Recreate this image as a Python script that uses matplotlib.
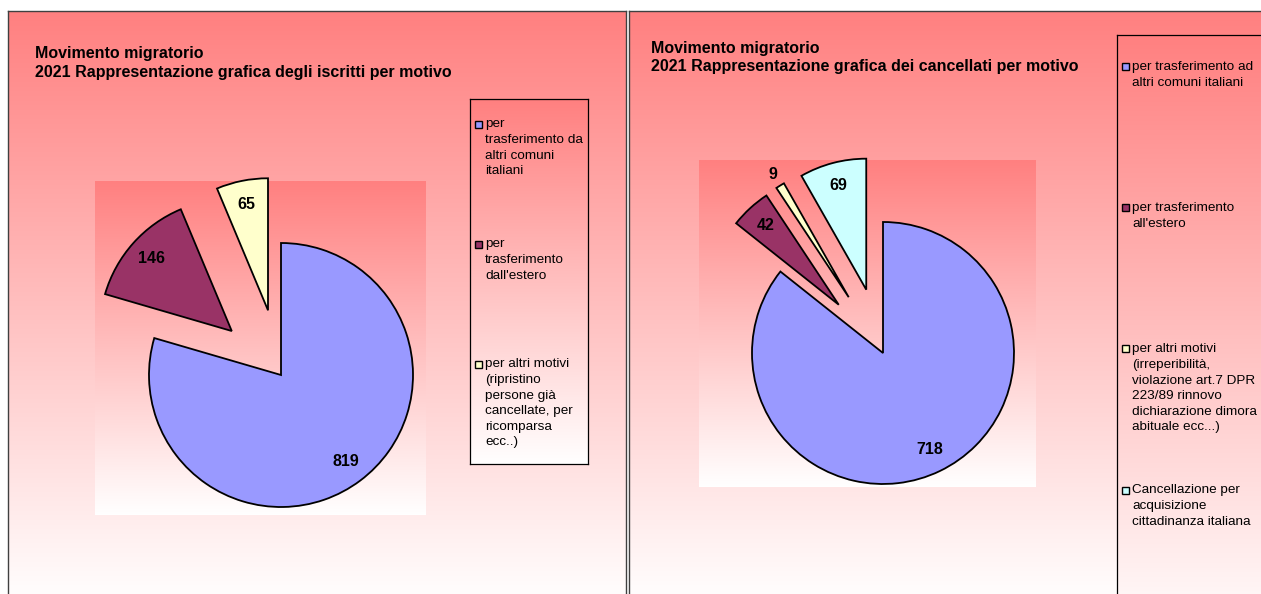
import numpy as np
import matplotlib.pyplot as plt
from matplotlib.colors import LinearSegmentedColormap
from matplotlib.patches import Rectangle

plt.rcParams['font.family'] = ['Liberation Sans', 'DejaVu Sans']

W, H = 1261, 594

# iscritti (left chart)
iscritti_title = ["Movimento migratorio",
                  "2021 Rappresentazione grafica degli iscritti per motivo"]
iscritti_labels = ["per\ntrasferimento da\naltri comuni\nitaliani",
                   "per\ntrasferimento\ndall'estero",
                   "per altri motivi\n(ripristino\npersone già\ncancellate, per\nricomparsa\necc..)"]
iscritti_values = [819, 146, 65]
iscritti_colors = ['#9999FF', '#993366', '#FFFFCC']
iscritti_explode = [0, 0.5, 0.5]

# cancellati (right chart)
cancellati_title = ["Movimento migratorio",
                    "2021 Rappresentazione grafica dei cancellati per motivo"]
cancellati_labels = ["per trasferimento ad\naltri comuni italiani",
                     "per trasferimento\nall'estero",
                     "per altri motivi\n(irreperibilità,\nviolazione art.7 DPR\n223/89 rinnovo\ndichiarazione dimora\nabituale ecc...)",
                     "Cancellazione per\nacquisizione\ncittadinanza italiana"]
cancellati_values = [718, 42, 9, 69]
cancellati_colors = ['#9999FF', '#993366', '#FFFFCC', '#CCFFFF']
cancellati_explode = [0, 0.5, 0.5, 0.5]

grad = LinearSegmentedColormap.from_list('excel_grad', ['#FF8080', '#FFFFFF'])
fig = plt.figure(figsize=(W / 100, H / 100), dpi=100)
fig.patch.set_facecolor('white')


def px_axes(x0, y0, x1, y1, z=0):
    # axes placed in pixel coordinates, data units = pixels (y down)
    ax = fig.add_axes([x0 / W, 1 - y1 / H, (x1 - x0) / W, (y1 - y0) / H], zorder=z)
    ax.set_xlim(x0, x1)
    ax.set_ylim(y1, y0)
    ax.set_xticks([])
    ax.set_yticks([])
    return ax


def gradient_box(x0, y0, x1, y1, edge=None, lw=1.0, z=0):
    ax = px_axes(x0, y0, x1, y1, z)
    ax.imshow(np.linspace(0, 1, 256).reshape(-1, 1), cmap=grad, aspect='auto',
              extent=(x0, x1, y1, y0), interpolation='bilinear')
    ax.set_xlim(x0, x1)
    ax.set_ylim(y1, y0)
    for s in ax.spines.values():
        if edge is None:
            s.set_visible(False)
        else:
            s.set_color(edge)
            s.set_linewidth(lw)
    return ax


def draw_title(x, y, lines):
    for i, line in enumerate(lines):
        fig.text(x / W, 1 - (y + i * 18.5) / H, line, fontsize=11.5,
                 fontweight='bold', va='baseline', ha='left', zorder=5)


def draw_pie(box, center, radius, values, colors, explode):
    x0, y0, x1, y1 = box
    gradient_box(x0, y0, x1, y1, z=1)
    ax = fig.add_axes([x0 / W, 1 - y1 / H, (x1 - x0) / W, (y1 - y0) / H], zorder=2)
    ax.patch.set_visible(False)
    total = sum(values)
    wedges, texts, autotexts = ax.pie(
        values, colors=colors, startangle=90, counterclock=False,
        explode=explode, autopct=lambda p: f'{p * total / 100:.0f}',
        pctdistance=0.82,
        wedgeprops=dict(edgecolor='black', linewidth=1.3),
        textprops=dict(fontsize=11.5, fontweight='bold', color='black'))
    # very small slice: label goes outside the wedge
    for w, t, v in zip(wedges, autotexts, values):
        if v / total < 0.02:
            ang = np.deg2rad((w.theta1 + w.theta2) / 2)
            t.set_position((w.center[0] + 1.1 * np.cos(ang),
                            w.center[1] + 1.1 * np.sin(ang)))
    cx, cy = center
    ax.set_aspect('auto')
    ax.set_xlim((x0 - cx) / radius, (x1 - cx) / radius)
    ax.set_ylim((cy - y1) / radius, (cy - y0) / radius)
    ax.axis('off')


def draw_legend(box, labels, colors, first_y, step, mark_x, text_x):
    x0, y0, x1, y1 = box
    ax = gradient_box(x0, y0, x1, y1, edge='black', lw=0.9, z=1)
    for i, (lab, col) in enumerate(zip(labels, colors)):
        y = first_y + i * step
        ax.add_patch(Rectangle((mark_x - 3.5, y - 3.5), 7, 7, facecolor=col,
                               edgecolor='black', linewidth=1.0, clip_on=False))
        ax.text(text_x, y - 5.5, lab, fontsize=9.7, va='top', ha='left',
                linespacing=1.4, color='black')


# left panel
gradient_box(8, 11, 626, 605, edge='#404040', lw=1.0, z=0)
draw_title(35, 58, iscritti_title)
draw_pie((95, 181, 426, 515), (281, 375), 132,
         iscritti_values, iscritti_colors, iscritti_explode)
draw_legend((470, 99, 588, 464), iscritti_labels, iscritti_colors,
            124, 120, 478, 485)

# right panel
gradient_box(629, 11, 1300, 605, edge='#404040', lw=1.0, z=0)
draw_title(651, 53, cancellati_title)
draw_pie((699, 160, 1036, 487), (883, 353), 131,
         cancellati_values, cancellati_colors, cancellati_explode)
draw_legend((1117, 35, 1300, 640), cancellati_labels, cancellati_colors,
            67, 141, 1125, 1132)

fig.savefig('out.png', dpi=100)
